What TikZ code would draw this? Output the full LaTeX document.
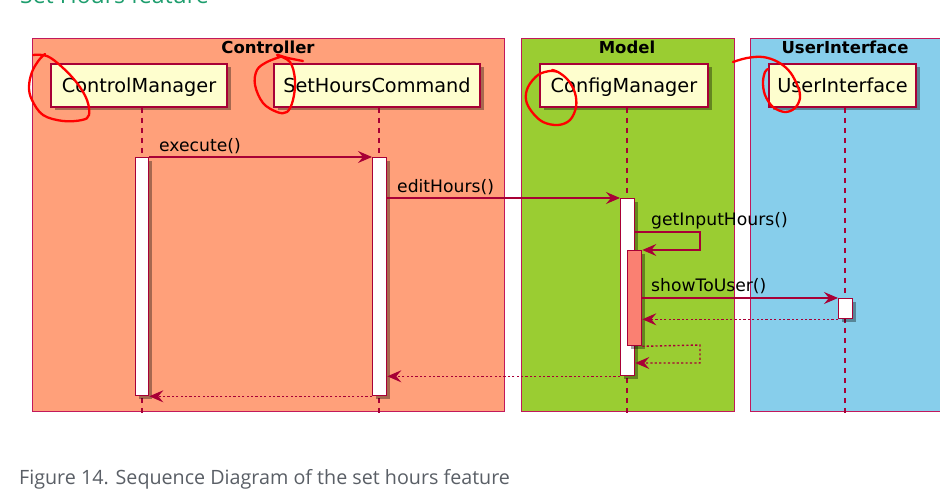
\documentclass[tikz,border=0pt]{standalone}
\usepackage{fontspec}
\setmainfont{DejaVu Sans}
\newfontfamily\capfont{Open Sans}
\usetikzlibrary{arrows.meta,shadows}
\definecolor{umlred}{HTML}{A80036}
\definecolor{grpred}{HTML}{C2185B}
\definecolor{partfill}{HTML}{FEFECE}
\definecolor{ctrlfill}{HTML}{FFA07A}
\definecolor{modelfill}{HTML}{9ACD32}
\definecolor{uifill}{HTML}{87CEEB}
\definecolor{nestfill}{HTML}{FA8072}
\definecolor{captiongray}{HTML}{5A5F66}
\definecolor{titlegreen}{HTML}{1E9E6E}
\tikzset{
  grp/.style={draw=grpred, line width=1.2pt, inner sep=0pt, anchor=north west},
  grptitle/.style={font=\fontsize{16.5}{18}\selectfont\bfseries, inner sep=0pt, anchor=base},
  participant/.style={draw=umlred, fill=partfill, line width=1.5pt, minimum height=43pt,
    inner sep=0pt, text height=15pt, text depth=0pt, font=\fontsize{19.3}{21}\selectfont,
    drop shadow={shadow xshift=3.5pt, shadow yshift=-3.5pt, opacity=0.35, fill=black}},
  act/.style={draw=umlred, fill=white, line width=1.3pt, inner sep=0pt, minimum width=14pt,
    anchor=north west, drop shadow={shadow xshift=3pt, shadow yshift=-3pt, opacity=0.35, fill=black}},
  lifeline/.style={draw=umlred, line width=1.2pt, dash pattern=on 5pt off 5pt},
  msg/.style={draw=umlred, line width=1.4pt, -{Stealth[length=14pt, width=12pt, inset=5pt]}},
  ret/.style={msg, dash pattern=on 2.2pt off 2.2pt},
  lbl/.style={font=\fontsize{17.2}{19}\selectfont, inner sep=0pt, anchor=base west},
  scribble/.style={draw=red, line width=2.3pt, line cap=round, line join=round},
}
\begin{document}
\begin{tikzpicture}[x=1pt, y=-1pt]
\useasboundingbox (0,0) rectangle (940,489);
\fill[white] (0,0) rectangle (940,489);
\clip (0,0) rectangle (940,489);

% page title (cut off at the top edge, as in the reference)
\node[font=\capfont\fontsize{23}{26}\selectfont, text=titlegreen, anchor=base west, inner sep=0pt] (pagetitle) at (20,4) {Set Hours feature};

% groups
\node[grp, fill=ctrlfill, minimum width=472pt, minimum height=373pt] (gctrl) at (32,38) {};
\node[grp, fill=modelfill, minimum width=213pt, minimum height=373pt] (gmodel) at (521,38) {};
\node[grp, fill=uifill, minimum width=220pt, minimum height=373pt] (gui) at (750,38) {};
\node[grptitle] (tctrl) at (268,54) {Controller};
\node[grptitle] (tmodel) at (627,54) {Model};
\node[grptitle] (tui) at (845,54) {UserInterface};

% participants
\node[participant, minimum width=176pt] (cm) at (139,85.5) {ControlManager};
\node[participant, minimum width=206pt] (shc) at (377,85.5) {SetHoursCommand};
\node[participant, minimum width=168pt] (cfg) at (624,85.5) {ConfigManager};
\node[participant, minimum width=147pt] (ui) at (842.5,85.5) {UserInterface};

% lifelines
\coordinate (l1) at (142,416);
\coordinate (l2) at (379,416);
\coordinate (l3) at (627,416);
\coordinate (l4) at (845,416);
\draw[lifeline] (cm.south -| l1) -- (l1);
\draw[lifeline] (shc.south -| l2) -- (l2);
\draw[lifeline] (cfg.south -| l3) -- (l3);
\draw[lifeline] (ui.south -| l4) -- (l4);

% activations
\node[act, minimum width=13pt, minimum height=238pt] (a1) at (135,157) {};
\node[act, minimum height=238pt] (a2) at (372,157) {};
\node[act, minimum height=177pt] (a3) at (620,198) {};
\node[act, fill=nestfill, minimum height=95pt] (a4) at (627,250) {};
\node[act, minimum height=20pt] (a5) at (838,298) {};

% messages
\draw[msg] (a1.north east) -- (a2.north west);
\node[lbl] (m1) at (159,152) {execute()};
\draw[msg] (a2.east |- a3.north) -- (a3.north west);
\node[lbl] (m2) at (397,193) {editHours()};
\coordinate (s1) at (700,232);
\draw[msg] (a3.east |- s1) -- (s1) |- (a4.north east);
\node[lbl] (m3) at (651,226) {getInputHours()};
\draw[msg] (a4.east |- a5.north) -- (a5.north west);
\node[lbl] (m4) at (651,291.5) {showToUser()};
\draw[ret] (a5.south west) -- (a4.east |- a5.south);
\coordinate (s2) at (700,345);
\coordinate (s3) at (700,363);
\draw[ret] (a4.south east) -- (s2) -- (s3) -- (a3.east |- s3);
\draw[ret] (a3.south west) -- (a2.east |- a3.south);
\draw[ret] (a2.south west) -- (a1.south east);

% caption
\node[font=\capfont\fontsize{19.7}{24}\selectfont, text=captiongray, anchor=base west, inner sep=0pt] (caption) at (19,484) {Figure 14. Sequence Diagram of the set hours feature};

% red hand annotations
\draw[scribble] plot[smooth, tension=0.6] coordinates {(33,55) (47,56) (62,67) (77,83) (87,100) (89,115) (82,120) (63,121) (43,115) (32,100) (29,87) (32,72) (39,60) (45,54)};
\draw[scribble] plot[smooth, tension=0.6] coordinates {(303,61) (288,58) (277,55) (290,62) (295,80) (293,100) (287,112) (277,112) (263,103) (255,85) (257,70) (267,62) (280,57)};
\draw[scribble] plot[smooth, tension=0.6] coordinates {(558,72) (550,71) (538,75) (528,87) (526,100) (532,112) (543,122) (558,125) (570,120) (576,107) (575,93) (568,80) (558,72) (552,70)};
\draw[scribble] plot[smooth, tension=0.6] coordinates {(733,62) (747,58) (763,57) (778,62) (790,72) (798,87) (800,98) (795,108) (785,112) (773,107) (765,95) (763,82) (765,72) (768,69)};
\end{tikzpicture}
\end{document}
